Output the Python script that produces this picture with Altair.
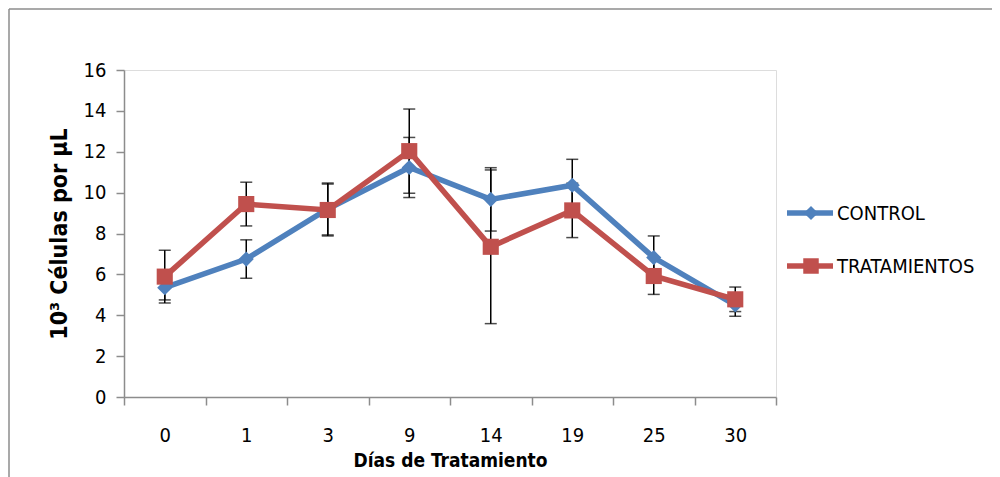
import altair as alt
import pandas as pd

days = ["0", "1", "3", "9", "14", "19", "25", "30"]
control = [5.35, 6.75, 9.2, 11.23, 9.67, 10.36, 6.82, 4.5]
control_err = [0.6, 0.94, 1.27, 1.47, 1.55, 1.27, 1.06, 0.55]
treat = [5.89, 9.44, 9.15, 12.03, 7.35, 9.13, 5.92, 4.78]
treat_err = [1.29, 1.07, 1.27, 2.06, 3.76, 1.33, 0.9, 0.6]
series = ["CONTROL", "TRATAMIENTOS"]
colors = ["#4F81BD", "#C0504D"]

rows = []
for i, d in enumerate(days):
    rows.append({"dia": d, "serie": series[0], "valor": control[i],
                 "lo": control[i] - control_err[i], "hi": control[i] + control_err[i]})
for i, d in enumerate(days):
    rows.append({"dia": d, "serie": series[1], "valor": treat[i],
                 "lo": treat[i] - treat_err[i], "hi": treat[i] + treat_err[i]})
df = pd.DataFrame(rows)

FONT = "Liberation Sans Narrow, DejaVu Sans Condensed, sans-serif"

x = alt.X("dia:N", sort=days,
          scale=alt.Scale(paddingInner=0, paddingOuter=0),
          axis=alt.Axis(title="Días de Tratamiento", labelAngle=0, tickBand="extent",
                        tickSize=8, labelPadding=20, titlePadding=6,
                        labelFontSize=20, titleFontSize=19, titleFontWeight="bold",
                        domainColor="#8c8c8c", tickColor="#8c8c8c", domainWidth=1.5,
                        tickWidth=1.5, labelColor="#000", titleColor="#000",
                        labelFont=FONT, titleFont=FONT))
y_axis = alt.Axis(title="10³ Células por µL", values=list(range(0, 17, 2)),
                  tickSize=8, labelPadding=10, titlePadding=12, grid=False,
                  labelFontSize=20, titleFontSize=23, titleFontWeight="bold",
                  domainColor="#8c8c8c", tickColor="#8c8c8c", domainWidth=1.5,
                  tickWidth=1.5, labelColor="#000", titleColor="#000",
                  labelFont=FONT, titleFont=FONT)
yscale = alt.Scale(domain=[0, 16], nice=False)
color = alt.Color("serie:N", scale=alt.Scale(domain=series, range=colors), legend=None)

base = alt.Chart(df)

err_rule = base.mark_rule(color="black", strokeWidth=1.5).encode(
    x=x, y=alt.Y("lo:Q", scale=yscale, axis=y_axis), y2="hi:Q")
cap_lo = base.mark_tick(color="black", thickness=1.5, size=12).encode(
    x=x, y=alt.Y("lo:Q", scale=yscale))
cap_hi = base.mark_tick(color="black", thickness=1.5, size=12).encode(
    x=x, y=alt.Y("hi:Q", scale=yscale))

lines = base.mark_line(strokeWidth=5.5).encode(
    x=x, y=alt.Y("valor:Q", scale=yscale, axis=y_axis), color=color,
    order=alt.Order("serie:N"), detail="serie:N")

pts_c = base.transform_filter(alt.datum.serie == series[0]).mark_point(
    shape="diamond", filled=True, size=230, opacity=1, color=colors[0]).encode(
    x=x, y=alt.Y("valor:Q", scale=yscale))
pts_t = base.transform_filter(alt.datum.serie == series[1]).mark_point(
    shape="square", filled=True, size=260, opacity=1, color=colors[1]).encode(
    x=x, y=alt.Y("valor:Q", scale=yscale))

# legend
leg_df = pd.DataFrame({"serie": series})
def legend_entry(i, shape, size, ypos):
    src = alt.Chart(leg_df).transform_filter(alt.datum.serie == series[i])
    r = src.mark_rule(color=colors[i], strokeWidth=5.5).encode(
        x=alt.value(663), x2=alt.value(709), y=alt.value(ypos))
    p = src.mark_point(shape=shape, filled=True, size=size, opacity=1,
                       color=colors[i]).encode(x=alt.value(687), y=alt.value(ypos))
    t = src.mark_text(align="left", baseline="middle", fontSize=20, font=FONT,
                      color="#000").encode(x=alt.value(713), y=alt.value(ypos + 1),
                                           text="serie:N")
    return [r, p, t]

legend_layers = legend_entry(0, "diamond", 200, 143) + legend_entry(1, "square", 240, 196)

# outer frame
frame_src = alt.Chart(leg_df).transform_filter(alt.datum.serie == series[0])
frame_top = frame_src.mark_rule(color="#8c8c8c", strokeWidth=1.5).encode(
    x=alt.value(-115), x2=alt.value(900), y=alt.value(-61))
frame_left = frame_src.mark_rule(color="#8c8c8c", strokeWidth=1.5).encode(
    x=alt.value(-115), y=alt.value(-61), y2=alt.value(420))

chart = alt.layer(
    frame_top, frame_left, err_rule, cap_lo, cap_hi, lines, pts_c, pts_t,
    *legend_layers
).properties(
    width=652, height=327,
    autosize=alt.AutoSizeParams(type="none"),
    padding={"left": 116, "top": 62, "right": 216, "bottom": 80},
).configure_view(stroke=None).configure(background="white")

chart.save("out.html", embed_options={"renderer": "svg", "actions": False})
